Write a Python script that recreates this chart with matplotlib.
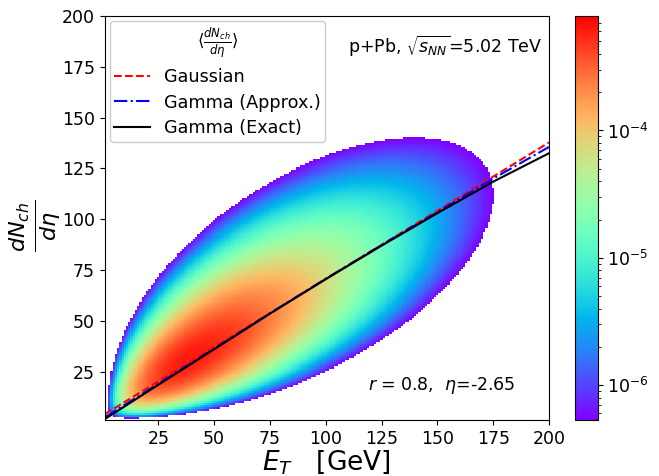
import numpy as np
import matplotlib
matplotlib.use('Agg')
import matplotlib.pyplot as plt
from matplotlib.colors import LogNorm
from math import lgamma

# conditional-mean curves
et_line = np.array([1, 25, 50, 75, 100, 125, 150, 175, 200])
gauss_line = np.array([4.0, 20.2, 37.0, 53.8, 70.6, 87.4, 104.2, 121.0, 137.8])
gamma_approx_line = np.array([2.5, 19.0, 36.3, 53.7, 70.7, 87.3, 103.5, 120.0, 135.6])
gamma_exact_line = np.array([1.6, 18.5, 36.0, 53.5, 70.5, 87.0, 103.0, 118.5, 132.5])

# bivariate gamma (Kibble) parameters for the density map
alpha = 5.0
rho = 0.74
theta_et = 11.0
theta_n = 8.8
z_min, z_max = 5.3e-7, 7.9e-4

# density on a 1-unit grid
et = np.arange(1, 201, 1.0)
nch = np.arange(1, 201, 1.0)
X, Y = np.meshgrid(et, nch)
xs = X / theta_et
ys = Y / theta_n
s = 1 - rho
Z = np.zeros_like(X)
for k in range(400):
    a = alpha + k
    logw = lgamma(a) - lgamma(alpha) - lgamma(k + 1) + alpha * np.log(s) + k * np.log(rho)
    lgx = (a - 1) * np.log(xs) - xs / s - lgamma(a) - a * np.log(s)
    lgy = (a - 1) * np.log(ys) - ys / s - lgamma(a) - a * np.log(s)
    Z += np.exp(logw + lgx + lgy)
Z = Z / (theta_et * theta_n)
Z = np.ma.masked_less(Z, z_min)

fig = plt.figure(figsize=(6.59, 4.76), dpi=100)
ax = fig.add_axes([0.159, 0.117, 0.674, 0.849])
cax = fig.add_axes([0.873, 0.117, 0.034, 0.849])

mesh = ax.pcolormesh(X, Y, Z, cmap='rainbow', norm=LogNorm(vmin=z_min, vmax=z_max), shading='nearest')
cb = fig.colorbar(mesh, cax=cax)
cb.ax.tick_params(labelsize=12.5)

ax.plot(et_line, gauss_line, 'r--', lw=1.5, label='Gaussian')
ax.plot(et_line, gamma_approx_line, 'b-.', lw=1.5, label='Gamma (Approx.)')
ax.plot(et_line, gamma_exact_line, 'k-', lw=1.5, label='Gamma (Exact)')

ax.set_xlim(1, 200)
ax.set_ylim(1, 200)
ax.set_xticks([25, 50, 75, 100, 125, 150, 175, 200])
ax.set_yticks([25, 50, 75, 100, 125, 150, 175, 200])
ax.tick_params(labelsize=12.5)
ax.set_xlabel(r'$E_T$   [GeV]', fontsize=19, labelpad=0)
ax.set_ylabel(r'$\frac{dN_{ch}}{d\eta}$', fontsize=23)
ax.yaxis.set_label_coords(-0.097, 0.48)

leg = ax.legend(loc='upper left', fontsize=12.7, title=r'$\langle\frac{dN_{ch}}{d\eta}\rangle$',
                title_fontsize=12, framealpha=1, labelspacing=0.43, borderaxespad=0.3,
                borderpad=0.25)
ax.text(0.985, 0.925, r'p+Pb, $\sqrt{s_{NN}}$=5.02 TeV', transform=ax.transAxes,
        ha='right', va='center', fontsize=12.5)
ax.text(0.925, 0.085, r'$r$ = 0.8,  $\eta$=-2.65', transform=ax.transAxes,
        ha='right', va='center', fontsize=12.5)

fig.savefig('out.png', dpi=100)
